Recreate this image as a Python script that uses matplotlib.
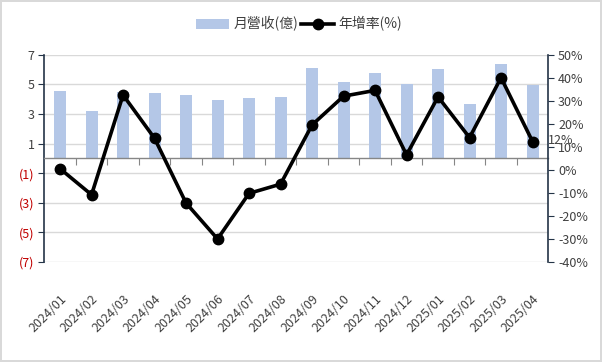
import matplotlib
matplotlib.use("Agg")
import matplotlib.pyplot as plt
from matplotlib.ticker import FuncFormatter, FixedLocator
import numpy as np

plt.rcParams['font.family'] = ['Noto Sans CJK TC', 'DejaVu Sans']

months = ["2024/01", "2024/02", "2024/03", "2024/04", "2024/05", "2024/06", "2024/07", "2024/08",
          "2024/09", "2024/10", "2024/11", "2024/12", "2025/01", "2025/02", "2025/03", "2025/04"]
revenue = [4.53, 3.18, 4.5, 4.39, 4.26, 3.92, 4.05, 4.12, 6.08, 5.14, 5.74, 5.02, 6.01, 3.67, 6.35, 4.93]
yoy = [0.5, -10.8, 32.5, 13.7, -14.4, -30.0, -10.2, -6.2, 19.5, 32.0, 34.5, 6.5, 31.7, 14.0, 40.0, 12.3]
left_ticks = [7, 5, 3, 1, -1, -3, -5, -7]
right_ticks = [50, 40, 30, 20, 10, 0, -10, -20, -30, -40]

bar_color = '#B4C7E7'
spine_color = '#243447'
text_color = '#404040'
red = '#C00000'

fig = plt.figure(figsize=(6.02, 3.62), dpi=100)
fig.patch.set_edgecolor('#d9d9d9')
fig.patch.set_linewidth(1.5)

ax = fig.add_axes([44.3/602, 1-262/362, (548.3-44.3)/602, (262-54.7)/362])
x = np.arange(len(months))
bars = ax.bar(x, revenue, width=0.38, color=bar_color, zorder=2, label='月營收(億)')
ax.set_xlim(-0.5, len(months)-0.5)
ax.set_ylim(-7, 7)
ax.yaxis.set_major_locator(FixedLocator(left_ticks))
ax.yaxis.set_major_formatter(FuncFormatter(lambda v, p: f"({abs(int(v))})" if v < 0 else f"{int(v)}"))
ax.grid(axis='y', color='#d9d9d9', linewidth=1, zorder=0)
ax.set_axisbelow(True)
ax.tick_params(axis='y', direction='out', length=4, color=spine_color, labelsize=9, labelcolor=text_color, pad=3)
for lbl, v in zip(ax.get_yticklabels(), left_ticks):
    if v < 0:
        lbl.set_color(red)

for s in ['top', 'right']:
    ax.spines[s].set_visible(False)
ax.spines['left'].set_color(spine_color)
ax.spines['left'].set_linewidth(1.2)
ax.spines['bottom'].set_position(('data', 0))
ax.spines['bottom'].set_color('#868686')
ax.spines['bottom'].set_linewidth(1)
ax.spines['bottom'].set_zorder(3)
ax.set_xticks(x[:-1] + 0.5)
ax.tick_params(axis='x', direction='out', length=5, color='#868686', labelbottom=False)

sec = ax.secondary_xaxis(0)
sec.set_xticks(x)
sec.set_xticklabels(months, rotation=45, ha='right', rotation_mode='anchor', fontsize=9, color=text_color)
sec.tick_params(axis='x', length=0, pad=22)
sec.spines['bottom'].set_visible(False)

ax2 = ax.twinx()
line, = ax2.plot(x, yoy, color='black', linewidth=2.6, marker='o', markersize=7.5, zorder=4, label='年增率(%)')
ax2.set_ylim(-40, 50)
ax2.yaxis.set_major_locator(FixedLocator(right_ticks))
ax2.yaxis.set_major_formatter(FuncFormatter(lambda v, p: f"{int(v)}%"))
ax2.tick_params(axis='y', direction='out', length=4, color=spine_color, labelsize=9, labelcolor=text_color, pad=3)
for s in ['top', 'left', 'bottom']:
    ax2.spines[s].set_visible(False)
ax2.spines['right'].set_color(spine_color)
ax2.spines['right'].set_linewidth(1.2)

ax2.annotate(f"{round(yoy[-1])}%", xy=(x[-1], yoy[-1]), xytext=(11, 1), textcoords='offset points',
             ha='left', va='center', fontsize=9, color=text_color)

fig.legend(handles=[bars, line], loc='center', bbox_to_anchor=(299/602, 1-24/362), ncol=2, frameon=False,
           fontsize=10, handlelength=2.4, handletextpad=0.3, columnspacing=0.2, labelcolor=text_color)

fig.savefig('out.png', dpi=100)
